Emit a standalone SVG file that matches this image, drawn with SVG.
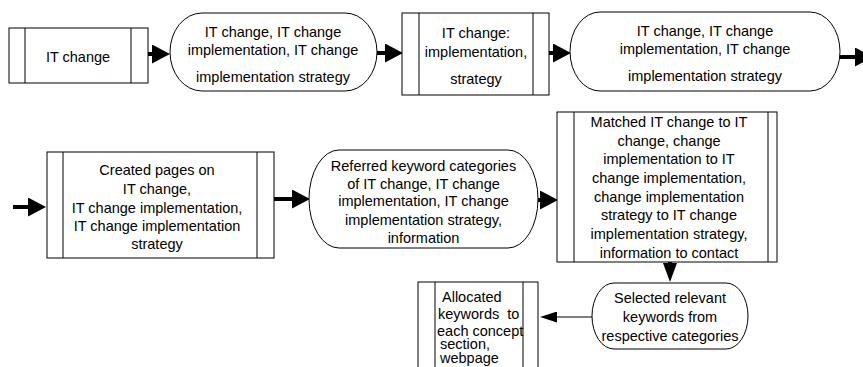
<svg xmlns="http://www.w3.org/2000/svg" width="863" height="367" viewBox="0 0 863 367">
<style>
  .box{fill:#fff;stroke:#000;stroke-width:1}
  .div{stroke:#000;stroke-width:1;fill:none}
  text{font-family:"Liberation Sans",Arial,sans-serif;font-size:14.5px;fill:#000;text-anchor:middle}
  text.l{text-anchor:start;white-space:pre}
  .thick{stroke:#000;stroke-width:4;fill:none}
  .thin{stroke:#000;stroke-width:1;fill:none}
</style>
<defs>
  <marker id="ah" markerUnits="userSpaceOnUse" markerWidth="18" markerHeight="19" viewBox="0 0 18 19" refX="0" refY="9.5" orient="auto"><path d="M0,0 L18,9.5 L0,19 Z" fill="#000"/></marker>
  <marker id="ahn" markerUnits="userSpaceOnUse" markerWidth="19" markerHeight="14" viewBox="0 0 19 14" refX="0" refY="7" orient="auto"><path d="M0,0 L19,7 L0,14 Z" fill="#000"/></marker>
  <marker id="ahs" markerUnits="userSpaceOnUse" markerWidth="17" markerHeight="11" viewBox="0 0 17 11" refX="0" refY="5.5" orient="auto"><path d="M0,0 L17,5.5 L0,11 Z" fill="#000"/></marker>
</defs>

<g id="connectors">
  <path class="thick" d="M148,54 H152" marker-end="url(#ah)"/>
  <path class="thick" d="M377,53 H385" marker-end="url(#ah)"/>
  <path class="thick" d="M549,53 H553" marker-end="url(#ah)"/>
  <path class="thick" d="M840,57 H855" marker-end="url(#ah)"/>
  <path class="thick" d="M13,207 H28" marker-end="url(#ah)"/>
  <path class="thick" d="M274,199 H292" marker-end="url(#ah)"/>
  <path class="thick" d="M538,200 H540" marker-end="url(#ah)"/>
  <path class="thick" d="M670,262 V263" marker-end="url(#ahn)"/>
  <path class="thin" d="M592,317 H557" marker-end="url(#ahs)"/>
</g>

<g id="n1">
  <rect class="box" x="9" y="28" width="139" height="55"/>
  <path class="div" d="M25,28 V83 M131,28 V83"/>
  <text x="78" y="62">IT change</text>
</g>

<g id="n2">
  <rect class="box" x="170" y="13" width="207" height="78" rx="32" ry="39"/>
  <text x="273" y="37">IT change, IT change</text>
  <text x="273" y="55">implementation, IT change</text>
  <text x="273" y="82">implementation strategy</text>
</g>

<g id="n3">
  <rect class="box" x="402" y="13" width="147" height="82"/>
  <path class="div" d="M419,13 V95 M533,13 V95"/>
  <text x="476" y="38">IT change:</text>
  <text x="476" y="57">implementation,</text>
  <text x="476" y="84">strategy</text>
</g>

<g id="n4">
  <rect class="box" x="570" y="12" width="270" height="79" rx="30" ry="39.5"/>
  <text x="705" y="36">IT change, IT change</text>
  <text x="705" y="54">implementation, IT change</text>
  <text x="705" y="81">implementation strategy</text>
</g>

<g id="n5">
  <rect class="box" x="47" y="152" width="227" height="106"/>
  <path class="div" d="M63,152 V258 M257,152 V258"/>
  <text x="157" y="175">Created pages on</text>
  <text x="157" y="194">IT change,</text>
  <text x="157" y="213">IT change implementation,</text>
  <text x="157" y="231">IT change implementation</text>
  <text x="157" y="249">strategy</text>
</g>

<g id="n6">
  <rect class="box" x="309" y="150" width="229" height="98" rx="30" ry="49"/>
  <text x="423.5" y="171">Referred keyword categories</text>
  <text x="423.5" y="189">of IT change, IT change</text>
  <text x="423.5" y="206">implementation, IT change</text>
  <text x="423.5" y="225">implementation strategy,</text>
  <text x="423.5" y="243">information</text>
</g>

<g id="n7">
  <rect class="box" x="557" y="112" width="220" height="150"/>
  <path class="div" d="M574,112 V262 M768,112 V262"/>
  <text x="669" y="127">Matched IT change to IT</text>
  <text x="669" y="146">change, change</text>
  <text x="669" y="164">implementation to IT</text>
  <text x="669" y="183">change implementation,</text>
  <text x="669" y="202">change implementation</text>
  <text x="669" y="220">strategy to IT change</text>
  <text x="669" y="239">implementation strategy,</text>
  <text x="669" y="258">information to contact</text>
</g>

<g id="n8">
  <rect class="box" x="592" y="283" width="156" height="66" rx="22" ry="33"/>
  <text x="670" y="303">Selected relevant</text>
  <text x="670" y="322">keywords from</text>
  <text x="670" y="341">respective categories</text>
</g>

<g id="n9">
  <rect class="box" x="418" y="282" width="120" height="100"/>
  <path class="div" d="M435,282 V382 M523,282 V382"/>
  <text class="l" x="442" y="302">Allocated</text>
  <text class="l" x="438" y="319">keywords  to</text>
  <text class="l" x="437" y="336">each concept</text>
  <text class="l" x="440" y="349">section,</text>
  <text class="l" x="440" y="363">webpage</text>
</g>
</svg>
